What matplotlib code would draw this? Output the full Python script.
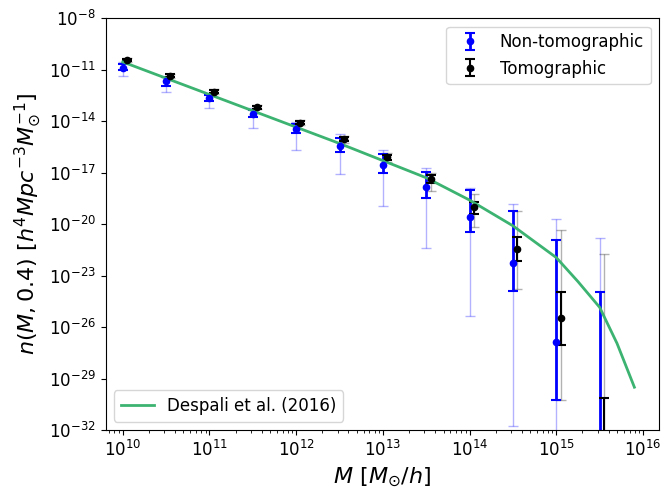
import numpy as np
import matplotlib
matplotlib.use('Agg')
import matplotlib.pyplot as plt
from matplotlib.ticker import NullLocator

# halo mass bins, log10(M / (Msun/h))
logM = [10.0, 10.5, 11.0, 11.5, 12.0, 12.5, 13.0, 13.5, 14.0, 14.5, 15.0, 15.5]
tomo_shift = 1.12   # tomographic points drawn slightly to the right

# Non-tomographic: log10 n, inner (dark) and outer (light) error limits
nt_n = [-10.88, -11.66, -12.66, -13.58, -14.47, -15.45, -16.54, -17.82, -19.57, -22.25, -26.87, -34.0]
nt_in_hi = [-10.65, -11.44, -12.47, -13.35, -14.18, -15.00, -15.91, -16.94, -18.01, -19.22, -20.93, -23.94]
nt_in_lo = [-11.01, -11.93, -12.80, -13.74, -14.67, -15.81, -17.00, -18.46, -20.48, -23.88, -30.26, -40.0]
nt_out_hi = [-10.53, -11.40, -12.40, -13.25, -14.06, -14.76, -15.68, -16.71, -17.91, -18.83, -19.70, -20.83]
nt_out_lo = [-11.36, -12.28, -13.25, -14.38, -15.68, -17.10, -18.94, -21.41, -25.34, -31.77, -40.0, -40.0]

# Tomographic
t_n = [-10.43, -11.35, -12.28, -13.19, -14.09, -15.06, -16.11, -17.37, -19.02, -21.43, -25.47, -34.0]
t_in_hi = [-10.36, -11.28, -12.20, -13.12, -14.00, -14.95, -15.95, -17.15, -18.71, -20.73, -23.96, -30.10]
t_in_lo = [-10.50, -11.42, -12.36, -13.27, -14.18, -15.17, -16.28, -17.60, -19.39, -22.13, -27.03, -40.0]
t_out_hi = [-10.32, -11.24, -12.15, -13.07, -13.95, -14.88, -15.88, -17.04, -18.24, -19.22, -20.34, -21.74]
t_out_lo = [-10.54, -11.46, -12.41, -13.32, -14.24, -15.25, -16.36, -18.05, -20.19, -23.77, -30.22, -40.0]

# Despali et al. (2016) curve
curve_logM = [10.0, 10.5, 11.0, 11.5, 12.0, 12.5, 13.0, 13.5, 14.0, 14.5, 15.0, 15.25, 15.5, 15.7, 15.9]
curve_logn = [-10.55, -11.50, -12.45, -13.40, -14.35, -15.30, -16.30, -17.30, -18.60, -20.10, -21.95,
              -23.35, -24.85, -26.95, -29.50]


def yerr(c, hi, lo):
    c = 10.0 ** np.array(c)
    return c, [c - 10.0 ** np.array(lo), 10.0 ** np.array(hi) - c]


fig, ax = plt.subplots(figsize=(6.61, 4.91), dpi=100)
fig.subplots_adjust(left=0.160, right=0.997, top=0.963, bottom=0.124)

M = 10.0 ** np.array(logM)

# outer (faint) error bars first
y, e = yerr(nt_n, nt_out_hi, nt_out_lo)
ax.errorbar(M, y, yerr=e, fmt='none', ecolor='blue', alpha=0.3, capsize=3.3, elinewidth=1)
y, e = yerr(t_n, t_out_hi, t_out_lo)
ax.errorbar(M * tomo_shift, y, yerr=e, fmt='none', ecolor='black', alpha=0.3, capsize=3.3, elinewidth=1)

y, e = yerr(nt_n, nt_in_hi, nt_in_lo)
h1 = ax.errorbar(M, y, yerr=e, fmt='o', color='blue', ms=4.5, capsize=3.3, elinewidth=2, capthick=1.5,
                 label='Non-tomographic')
y, e = yerr(t_n, t_in_hi, t_in_lo)
h2 = ax.errorbar(M * tomo_shift, y, yerr=e, fmt='o', color='black', ms=4.5, capsize=3.3, elinewidth=1.5,
                 capthick=1.5, label='Tomographic')

line, = ax.plot(10.0 ** np.array(curve_logM), 10.0 ** np.array(curve_logn), color='#3cb371', lw=2,
                label='Despali et al. (2016)')

ax.set_xscale('log')
ax.set_yscale('log')
ax.set_xlim(10 ** 9.804, 10 ** 16.184)
ax.set_ylim(1e-32, 1e-8)
ax.set_yticks(10.0 ** np.arange(-32, -7, 3))
ax.yaxis.set_minor_locator(NullLocator())
ax.tick_params(labelsize=12)

ax.set_xlabel(r'$M\ [M_{\odot}/h]$', fontsize=16)
ax.set_ylabel(r'$n(M, 0.4)\ [h^4 Mpc^{-3} M_{\odot}^{-1}]$', fontsize=16)

leg1 = ax.legend(handles=[h1, h2], loc='upper right', fontsize=12)
ax.add_artist(leg1)
ax.legend(handles=[line], loc='lower left', fontsize=12)

plt.savefig('out.png', dpi=100)
